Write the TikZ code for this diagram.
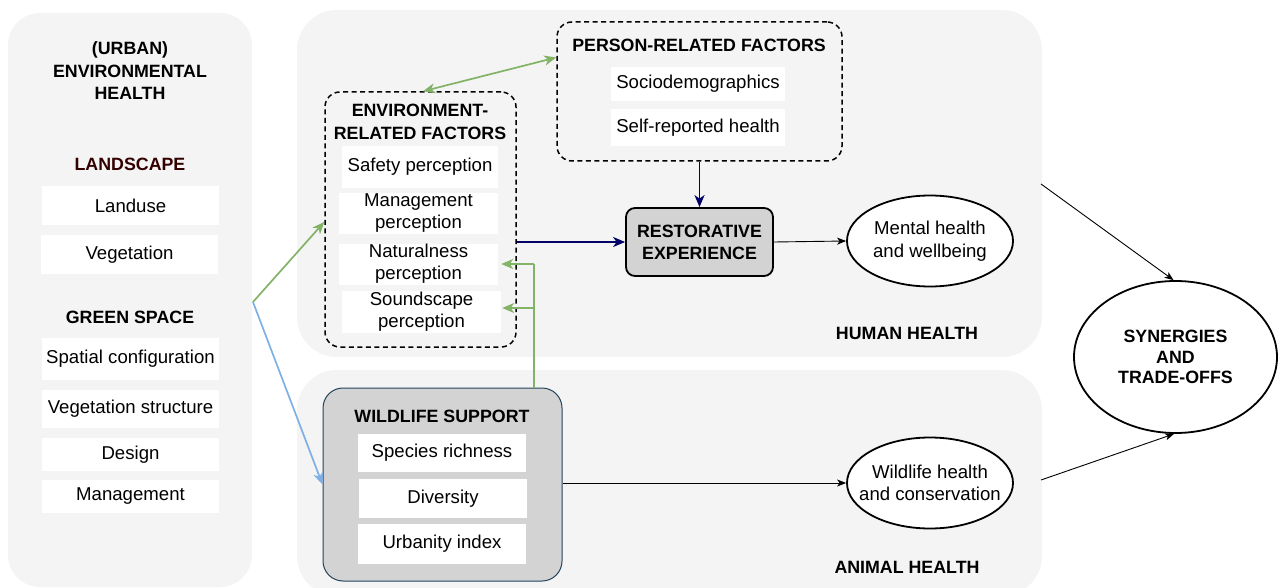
\documentclass[tikz,border=0pt]{standalone}
\usepackage{fontspec}
\setmainfont{Liberation Sans}
\usetikzlibrary{shapes.geometric,arrows.meta,calc}
\definecolor{panelgray}{HTML}{F4F4F4}
\definecolor{boxgray}{HTML}{D3D3D3}
\definecolor{leafgreen}{HTML}{82B366}
\definecolor{skyblue}{HTML}{7EB0E6}
\definecolor{navyblue}{HTML}{000066}
\definecolor{maroon}{HTML}{330000}
\definecolor{slateedge}{HTML}{23445D}
\tikzset{
  panel/.style={fill=panelgray, draw=none, rounded corners=32pt, inner sep=0pt},
  item/.style={fill=white, draw=none, inner sep=0pt, align=center,
    font=\fontsize{18.6}{22}\selectfont},
  head/.style={inner sep=0pt, align=center, font=\fontsize{17.8}{22.5}\selectfont\bfseries},
  factorbox/.style={draw=black, line width=1.5pt, dash pattern=on 5pt off 3.5pt,
    rounded corners=15pt, inner sep=0pt},
  outcome/.style={ellipse, draw=black, line width=1.8pt, fill=white, inner sep=0pt},
  outcometext/.style={align=center, inner sep=0pt, font=\fontsize{18.6}{22.5}\selectfont},
  grnarrow/.style={draw=leafgreen, line width=1.7pt, -{Stealth[length=12pt,width=10pt,inset=3.5pt]}},
  bluearrow/.style={draw=skyblue, line width=1.7pt, -{Stealth[length=12pt,width=10pt,inset=3.5pt]}},
  navyarrow/.style={draw=navyblue, line width=1.9pt, -{Stealth[length=12pt,width=10pt,inset=3.5pt]}},
  thinarrow/.style={draw=black, line width=0.9pt, -{Stealth[length=9pt,width=7pt,inset=2.5pt]}},
}
\begin{document}
\begin{tikzpicture}[x=1pt, y=-1pt]
\useasboundingbox (0,0) rectangle (1282,588);

% background panels
\node[panel, minimum width=244pt, minimum height=574pt] (leftpanel) at (130,300) {};
\node[panel, minimum width=745pt, minimum height=347pt, rounded corners=40pt] (humanpanel) at (669.5,183.5) {};
\node[panel, minimum width=745pt, minimum height=226pt, rounded corners=40pt] (animalpanel) at (669.5,483) {};

% left column: urban environmental health
\node[head] (urbantitle) at (130,71) {(URBAN)\\ENVIRONMENTAL\\HEALTH};
\node[head, text=maroon] (landscape) at (130,164) {LANDSCAPE};
\node[item, minimum width=177pt, minimum height=39pt] (landuse) at (130.5,205.5) {Landuse};
\node[item, minimum width=177pt, minimum height=39pt] (vegetation) at (129.5,254.5) {Vegetation};
\node[head] (greenspace) at (130,317) {GREEN SPACE};
\node[item, minimum width=177pt, minimum height=42pt] (spatial) at (130.5,359) {Spatial configuration};
\node[item, minimum width=177pt, minimum height=38pt] (vegstruct) at (130.5,409) {Vegetation structure};
\node[item, minimum width=177pt, minimum height=33pt] (design) at (130.5,454.5) {Design};
\node[item, minimum width=177pt, minimum height=33pt] (management) at (130.5,496.5) {Management};

% environment-related factors
\node[factorbox, minimum width=191pt, minimum height=255pt] (env) at (420.5,219.5) {};
\node[head] (envtitle) at (420,122) {ENVIRONMENT-\\RELATED FACTORS};
\node[item, minimum width=156pt, minimum height=42pt] (safety) at (420,167) {Safety perception};
\node[item, minimum width=159pt, minimum height=41pt] (mgmtperc) at (418.5,213.5) {Management\\perception};
\node[item, minimum width=159pt, minimum height=41pt] (natural) at (418.5,264) {Naturalness\\perception};
\node[item, minimum width=159pt, minimum height=42pt] (sound) at (421.5,312) {Soundscape\\perception};

% person-related factors
\node[factorbox, minimum width=285pt, minimum height=139pt] (person) at (699.5,91.5) {};
\node[head] (persontitle) at (699,45) {PERSON-RELATED FACTORS};
\node[item, minimum width=174pt, minimum height=34pt] (socio) at (698,84) {Sociodemographics};
\node[item, minimum width=174pt, minimum height=37pt] (selfrep) at (698,127.5) {Self-reported health};

% restorative experience
\node[draw=black, line width=1.8pt, fill=boxgray, rounded corners=9pt, inner sep=0pt,
  minimum width=147pt, minimum height=68pt, align=center,
  font=\fontsize{17.8}{22}\selectfont\bfseries] (rest) at (699.5,242) {RESTORATIVE\\EXPERIENCE};

% wildlife support
\node[draw=slateedge, line width=1pt, fill=boxgray, rounded corners=20pt, inner sep=0pt,
  minimum width=239pt, minimum height=193pt] (wild) at (442.5,484.5) {};
\node[head] (wildtitle) at (442,416) {WILDLIFE SUPPORT};
\node[item, minimum width=168pt, minimum height=38pt] (species) at (442,453) {Species richness};
\node[item, minimum width=168pt, minimum height=39pt] (diversity) at (443,498.5) {Diversity};
\node[item, minimum width=168pt, minimum height=40pt] (urbanity) at (442,544) {Urbanity index};

% outcomes (fixed-size ellipses, text laid over them)
\node[outcome, minimum width=166pt, minimum height=91pt] (mental) at (930,241) {};
\node[outcometext] (mentaltext) at (mental.center) {Mental health\\and wellbeing};
\node[outcome, minimum width=166pt, minimum height=91pt] (wildhealth) at (930,483) {};
\node[outcometext] (wildhealthtext) at (wildhealth.center) {Wildlife health\\and conservation};
\node[outcome, minimum width=203pt, minimum height=152pt] (synergies) at (1175.5,357) {};
\node[align=center, inner sep=0pt, font=\fontsize{17.8}{20.7}\selectfont\bfseries]
  (synergiestext) at (synergies.center) {SYNERGIES\\AND\\TRADE-OFFS};

% panel labels
\node[head] (humanlabel) at (907,333) {HUMAN HEALTH};
\node[head] (animallabel) at (907,567) {ANIMAL HEALTH};

% connectors
\coordinate (split) at (253,302);
\coordinate (wildtop) at (534,388);
\coordinate (humanout) at (1041,184);
\coordinate (animalout) at (1041,480);

\draw[grnarrow] (split) -- ([yshift=-2.5pt]env.west);
\draw[bluearrow] (split) -- (wild.west);
\draw[grnarrow, {Stealth[length=12pt,width=10pt,inset=3.5pt]}-{Stealth[length=12pt,width=10pt,inset=3.5pt]}]
  ([xshift=2.5pt]env.north) -- ([yshift=34pt]person.west);
\draw[draw=leafgreen, line width=1.7pt] (wildtop) -- (wildtop |- natural.east);
\draw[grnarrow] (wildtop |- natural.east) -- ([xshift=3pt]natural.east);
\draw[grnarrow] (wildtop |- 0,308) -- ([xshift=1pt,yshift=4pt]sound.east);
\draw[navyarrow] (env.east |- rest.west) -- (rest.west);
\draw[navyarrow] (person.south) -- (rest.north);
\draw[thinarrow] (rest.east) -- (mental.west);
\draw[thinarrow] (wild.east |- wildhealth.west) -- (wildhealth.west);
\draw[thinarrow] (humanout) -- ([xshift=-2pt]synergies.north);
\draw[thinarrow] (animalout) -- ([xshift=-1.5pt]synergies.south);
\end{tikzpicture}
\end{document}
